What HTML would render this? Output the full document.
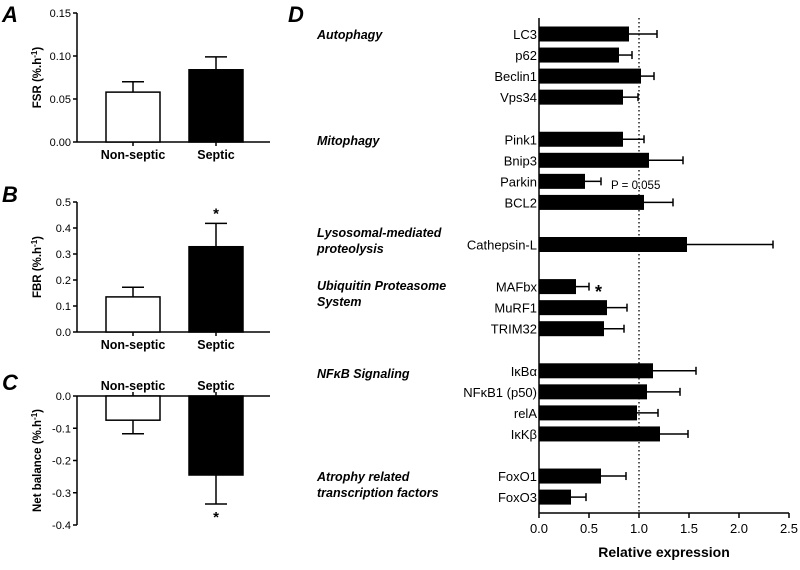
<!DOCTYPE html>
<html><head><meta charset="utf-8"><style>
body{margin:0;background:#fff;font-family:"Liberation Sans",Arial,sans-serif}
svg text{font-family:"Liberation Sans",Arial,sans-serif}
</style></head><body>
<svg id="c" width="800" height="565" xmlns="http://www.w3.org/2000/svg"></svg>
<script>
const groupsAB=["Non-septic","Septic"];
const fsrVals=[0.058,0.084], fsrErr=[0.012,0.015];
const fbrVals=[0.135,0.328], fbrErr=[0.037,0.09];
const netVals=[-0.075,-0.245], netErr=[-0.042,-0.09];
const genes=["LC3","p62","Beclin1","Vps34","Pink1","Bnip3","Parkin","BCL2","Cathepsin-L","MAFbx","MuRF1","TRIM32","IκBα","NFκB1 (p50)","relA","IκKβ","FoxO1","FoxO3"];
const geneVals=[0.9,0.8,1.02,0.84,0.84,1.1,0.46,1.05,1.48,0.37,0.68,0.65,1.14,1.08,0.98,1.21,0.62,0.32];
const geneErr=[0.28,0.13,0.13,0.15,0.21,0.34,0.16,0.29,0.86,0.13,0.2,0.2,0.43,0.33,0.21,0.28,0.25,0.15];
const geneRow=[0,1,2,3,5,6,7,8,10,12,13,14,16,17,18,19,21,22];
const xTicks=["0.0","0.5","1.0","1.5","2.0","2.5"];

const svg=document.getElementById('c');
const NS="http://www.w3.org/2000/svg";
function el(tag,attrs,name,txt){const e=document.createElementNS(NS,tag);for(const k in attrs)e.setAttribute(k,attrs[k]);


if(txt!==undefined)e.textContent=txt;svg.appendChild(e);return e;}
function line(x1,y1,x2,y2,name,w,extra){return el('line',Object.assign({x1,y1,x2,y2,stroke:'#000','stroke-width':w||1.5},extra||{}),name);}
function text(x,y,s,name,o){return el('text',Object.assign({x,y,'font-size':11},o||{}),name,s);}

// small panels: yLo = pixel of value lo, yHi = pixel of value hi
function panel(letter,ly,vals,errs,lo,hi,yLo,yHi,ticks,fmt,title,labelsTop,stars){
  const Y=v=>yLo-(v-lo)/(hi-lo)*(yLo-yHi);
  text(2,ly,letter,'panel-'+letter.toLowerCase()+'-letter',{'font-size':22,'font-weight':'bold','font-style':'italic'});
  line(77,Math.min(yLo,yHi),77,Math.max(yLo,yHi),'y-axis-'+letter);
  const zero=Y(0);
  line(77,zero,270,zero,'x-axis-'+letter);
  ticks.forEach(t=>{line(73,Y(t),77,Y(t),'y-tick');text(71,Y(t)+4,fmt(t),'y-tick-label',{'text-anchor':'end','font-size':11});});
  const cx=[133,216];
  vals.forEach((v,i)=>{
    const ya=Y(v),top=Math.min(ya,zero),h=Math.abs(ya-zero);
    el('rect',{x:cx[i]-27,y:top,width:54,height:h,fill:i?'#000':'#fff',stroke:'#000','stroke-width':1.5},'bar-'+groupsAB[i].toLowerCase());
    const ye=Y(v+errs[i]);
    line(cx[i],ya,cx[i],ye,'error-bar');line(cx[i]-11,ye,cx[i]+11,ye,'error-cap');
    line(cx[i],zero,cx[i],zero+(labelsTop?-4:4),'x-tick');
    text(cx[i],labelsTop?zero-6:zero+17,groupsAB[i],'x-label-'+groupsAB[i].toLowerCase(),{'text-anchor':'middle','font-size':12.5,'font-weight':'bold'});
    if(stars[i]){const sy=v>=0?ye-5:ye+18;text(cx[i],sy,'*','significance-star',{'text-anchor':'middle','font-size':15,'font-weight':'bold'});}
  });
  const mid=(yLo+yHi)/2;
  const t=el('text',{x:0,y:0,'font-size':11.5,'font-weight':'bold','text-anchor':'middle',transform:`translate(41,${mid}) rotate(-90)`},'y-axis-title-'+letter);
  t.innerHTML=title+' (%.h<tspan dy="-4" font-size="8">-1</tspan><tspan dy="4">)</tspan>';
}
panel('A',22,fsrVals,fsrErr,0,0.15,142,13,[0,0.05,0.1,0.15],t=>t.toFixed(2),'FSR',false,[0,0]);
panel('B',202,fbrVals,fbrErr,0,0.5,332,202,[0,0.1,0.2,0.3,0.4,0.5],t=>t.toFixed(1),'FBR',false,[0,1]);
panel('C',390,netVals,netErr,-0.4,0,525,396,[0,-0.1,-0.2,-0.3,-0.4],t=>t.toFixed(1),'Net balance',true,[0,1]);

// panel D
const X=v=>539+v*100;
const rowY=r=>34+r*21.05;
text(288,22,'D','panel-d-letter',{'font-size':22,'font-weight':'bold','font-style':'italic'});
line(539,18,539,513,'y-axis-d');line(539,513,789,513,'x-axis-d');
line(X(1),18,X(1),513,'reference-line',1.3,{'stroke-dasharray':'1.5,2.5'});
xTicks.forEach((t,i)=>{const x=X(+t);line(x,513,x,518,'x-tick');text(x,533,t,'x-tick-label',{'text-anchor':'middle','font-size':13});});
text(664,557,'Relative expression','x-axis-title-d',{'text-anchor':'middle','font-size':14,'font-weight':'bold'});
genes.forEach((g,i)=>{
  const y=rowY(geneRow[i]);
  el('rect',{x:539,y:y-7.5,width:X(geneVals[i])-539,height:15,fill:'#000'},'bar-'+g.toLowerCase());
  const xe=X(geneVals[i]+geneErr[i]);
  line(X(geneVals[i]),y,xe,y,'error-bar');line(xe,y-4,xe,y+4,'error-cap');
  text(537,y+5,g,'gene-label',{'text-anchor':'end','font-size':13});
});
text(611,189,'P = 0.055','p-value-annotation',{'font-size':11.5});
text(595,298,'*','significance-star',{'font-size':18,'font-weight':'bold'});
const cats=[["Autophagy",39],["Mitophagy",145],["Lysosomal-mediated",237],["proteolysis",253],["Ubiquitin Proteasome",290],["System",306],["NFκB Signaling",378],["Atrophy related",481],["transcription factors",497]];
cats.forEach(c=>text(317,c[1],c[0],'category-label',{'font-size':12.5,'font-weight':'bold','font-style':'italic'}));
</script>
</body></html>
